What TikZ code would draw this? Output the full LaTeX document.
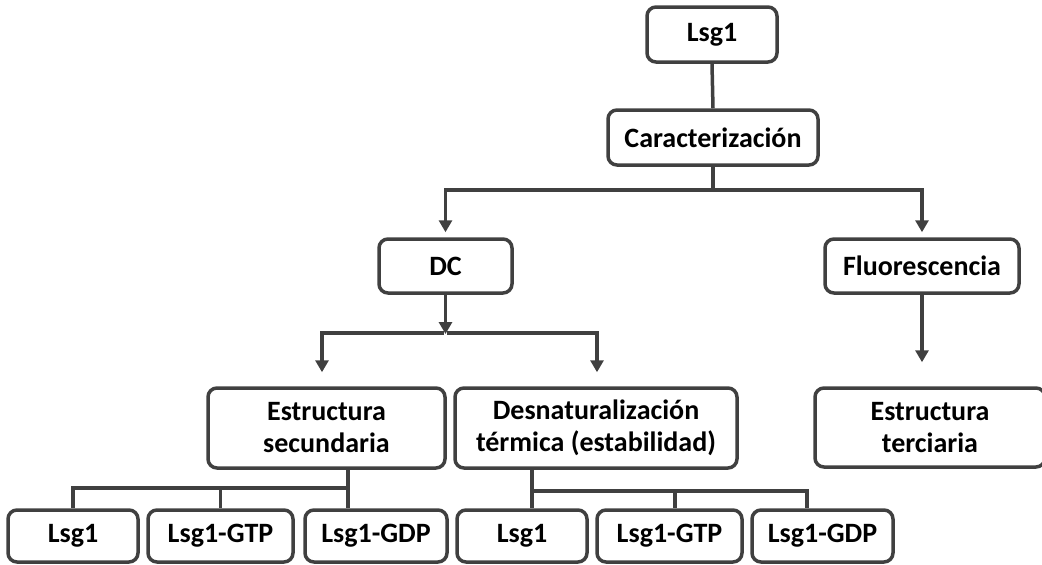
\documentclass[tikz,border=0pt]{standalone}
\usepackage{fontspec}
\setmainfont{Carlito}
\usetikzlibrary{arrows.meta}
\definecolor{ln}{HTML}{404040}
\tikzset{
  box/.style={draw=ln, line width=3.5pt, rounded corners=9pt, fill=white, inner sep=0pt, align=center, font=\fontsize{28}{32}\selectfont\bfseries},
  conn/.style={draw=ln, line width=3.5pt},
  arr/.style={conn, -{Triangle[length=12pt,width=13pt]}},
}
\begin{document}
\begin{tikzpicture}[x=1pt,y=-1pt]
\useasboundingbox (0,0) rectangle (1042,565);
\node[box, minimum width=130pt, minimum height=55pt] (top) at (712,34.5) {Lsg1};
\node[box, minimum width=210pt, minimum height=55pt] (car) at (713,137.5) {Caracterización};
\node[box, minimum width=133pt, minimum height=54pt] (dc) at (445.5,266) {DC};
\node[box, minimum width=194pt, minimum height=54pt] (flu) at (922,266) {Fluorescencia};
\node[box, minimum width=237pt, minimum height=80pt] (es) at (326.5,428) {Estructura\\secundaria};
\node[box, minimum width=282pt, minimum height=80pt] (dt) at (596,428) {Desnaturalización\\térmica (estabilidad)};
\node[box, minimum width=230pt, minimum height=79pt] (et) at (930,427.5) {Estructura\\terciaria};
\node[box, minimum width=130pt, minimum height=52pt] (b1) at (73,536) {Lsg1};
\node[box, minimum width=145pt, minimum height=52pt] (b2) at (220.5,536) {Lsg1-GTP};
\node[box, minimum width=142pt, minimum height=52pt] (b3) at (376,536) {Lsg1-GDP};
\node[box, minimum width=130pt, minimum height=52pt] (b4) at (522,536) {Lsg1};
\node[box, minimum width=145pt, minimum height=52pt] (b5) at (669.5,536) {Lsg1-GTP};
\node[box, minimum width=141pt, minimum height=52pt] (b6) at (822.5,536) {Lsg1-GDP};
% top connectors
\draw[conn] (top.south) -- (car.north);
\coordinate (j1) at (713,190);
\draw[conn] (car.south) -- (j1);
\draw[arr, shorten >=5pt] (j1) -| (dc.north);
\draw[arr, shorten >=5pt] (j1) -| (flu.north);
% DC
\coordinate (j2) at (445.5,333);
\draw[arr, shorten >=-1pt] (dc.south) -- (j2);
\draw[arr, shorten >=14pt] ([xshift=-1.75pt]j2) -| ([xshift=-4.5pt]es.north);
\draw[arr, shorten >=14pt] ([xshift=1.75pt]j2) -| ([xshift=1pt]dt.north);
\draw[arr, shorten >=24pt] (flu.south) -- (et.north -| flu.south);
% secundaria branches
\coordinate (h1) at (348,488);
\draw[conn] (es.south -| h1) -- (h1 |- b3.north);
\draw[conn] (h1) -| (b1.north);
\draw[conn] (h1) -| (b2.north);
% termica branches
\coordinate (h2) at (532,491);
\coordinate (h3) at (675,491);
\coordinate (h4) at (807,491);
\draw[conn] (dt.south -| h2) -- (h2 |- b4.north);
\draw[conn] ([xshift=-1.75pt]h2) -- ([xshift=1.75pt]h4);
\draw[conn] (h3) -- (h3 |- b5.north);
\draw[conn] (h4) -- (h4 |- b6.north);
\end{tikzpicture}
\end{document}
